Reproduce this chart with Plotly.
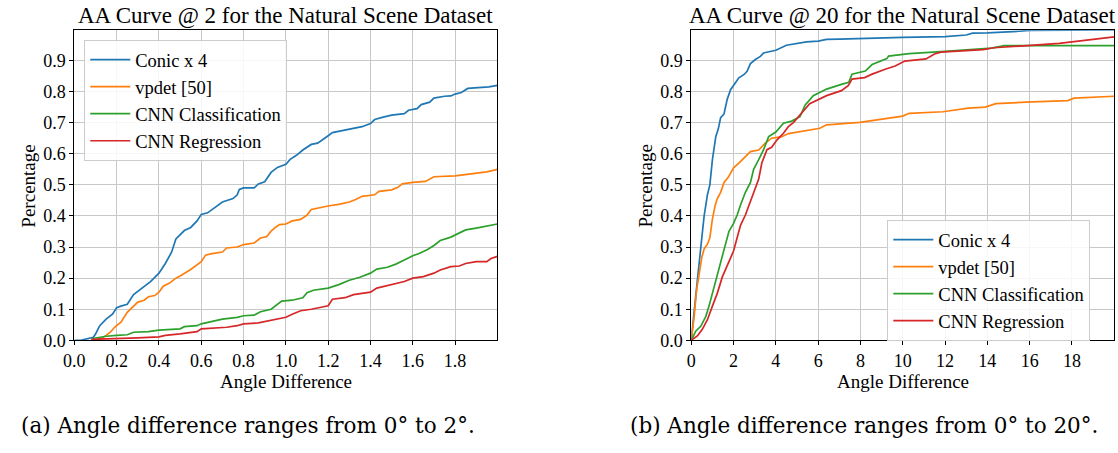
import plotly.graph_objects as go

W, H = 1118, 453

# ---------- data: left panel (0..2 deg) ----------
conic2_x = [0.0, 0.03, 0.09, 0.10, 0.12, 0.15, 0.18, 0.20, 0.22, 0.25, 0.28, 0.30, 0.33, 0.36, 0.40, 0.43, 0.46, 0.48,
            0.52, 0.55, 0.58, 0.60, 0.63, 0.66, 0.70, 0.75, 0.77, 0.78, 0.80, 0.85, 0.87, 0.90, 0.93, 0.96, 1.00,
            1.02, 1.05, 1.08, 1.12, 1.15, 1.18, 1.20, 1.22, 1.25, 1.30, 1.36, 1.40, 1.42, 1.46, 1.50, 1.56, 1.58,
            1.62, 1.64, 1.68, 1.70, 1.75, 1.78, 1.80, 1.83, 1.86, 1.90, 1.96, 2.00]
conic2_y = [0.0, 0.0, 0.01, 0.02, 0.047, 0.068, 0.084, 0.105, 0.11, 0.116, 0.147, 0.158, 0.174, 0.189, 0.216, 0.247,
            0.284, 0.326, 0.353, 0.363, 0.384, 0.405, 0.41, 0.426, 0.445, 0.456, 0.468, 0.485, 0.49, 0.49, 0.503,
            0.51, 0.54, 0.556, 0.566, 0.582, 0.595, 0.612, 0.63, 0.634, 0.65, 0.658, 0.668, 0.672, 0.679, 0.687,
            0.697, 0.71, 0.718, 0.724, 0.729, 0.74, 0.745, 0.758, 0.766, 0.779, 0.785, 0.786, 0.792, 0.797, 0.81,
            0.812, 0.815, 0.82]

vpdet2_x = [0.09, 0.13, 0.15, 0.17, 0.19, 0.22, 0.25, 0.28, 0.30, 0.33, 0.35, 0.38, 0.40, 0.42, 0.45, 0.48, 0.50,
            0.55, 0.58, 0.60, 0.62, 0.65, 0.70, 0.72, 0.77, 0.80, 0.85, 0.88, 0.91, 0.93, 0.95, 0.97, 1.00, 1.03,
            1.07, 1.10, 1.12, 1.15, 1.20, 1.25, 1.30, 1.33, 1.36, 1.42, 1.44, 1.50, 1.53, 1.55, 1.60, 1.66, 1.68,
            1.70, 1.80, 1.86, 1.90, 1.95, 2.00]
vpdet2_y = [0.0, 0.007, 0.016, 0.026, 0.042, 0.058, 0.09, 0.11, 0.123, 0.129, 0.14, 0.144, 0.155, 0.174, 0.184,
            0.2, 0.207, 0.228, 0.242, 0.253, 0.274, 0.279, 0.284, 0.297, 0.3, 0.308, 0.313, 0.329, 0.334, 0.351,
            0.363, 0.372, 0.374, 0.384, 0.389, 0.403, 0.421, 0.426, 0.432, 0.437, 0.445, 0.453, 0.463, 0.468,
            0.479, 0.484, 0.492, 0.503, 0.508, 0.511, 0.519, 0.526, 0.529, 0.534, 0.539, 0.542, 0.55]

cls2_x = [0.08, 0.15, 0.20, 0.25, 0.28, 0.35, 0.40, 0.50, 0.52, 0.58, 0.60, 0.65, 0.70, 0.77, 0.80, 0.85, 0.88,
          0.93, 0.95, 0.98, 1.03, 1.08, 1.10, 1.13, 1.20, 1.25, 1.30, 1.35, 1.40, 1.43, 1.48, 1.52, 1.56, 1.60,
          1.63, 1.67, 1.70, 1.73, 1.78, 1.82, 1.85, 1.90, 1.95, 2.00]
cls2_y = [0.005, 0.013, 0.016, 0.018, 0.026, 0.028, 0.033, 0.037, 0.044, 0.047, 0.053, 0.06, 0.068, 0.074, 0.079,
          0.081, 0.092, 0.1, 0.111, 0.126, 0.129, 0.137, 0.153, 0.161, 0.168, 0.179, 0.193, 0.203, 0.216, 0.229,
          0.235, 0.245, 0.258, 0.272, 0.279, 0.292, 0.305, 0.321, 0.332, 0.344, 0.355, 0.361, 0.368, 0.374]

reg2_x = [0.08, 0.20, 0.30, 0.40, 0.43, 0.50, 0.55, 0.58, 0.60, 0.65, 0.72, 0.77, 0.80, 0.87, 0.92, 0.95, 1.00,
          1.03, 1.07, 1.12, 1.20, 1.22, 1.28, 1.32, 1.40, 1.43, 1.47, 1.52, 1.56, 1.60, 1.65, 1.70, 1.73, 1.78,
          1.82, 1.85, 1.90, 1.95, 1.97, 2.00]
reg2_y = [0.003, 0.007, 0.008, 0.011, 0.016, 0.021, 0.024, 0.028, 0.037, 0.039, 0.042, 0.047, 0.053, 0.056, 0.063,
          0.068, 0.074, 0.084, 0.095, 0.1, 0.111, 0.132, 0.137, 0.147, 0.155, 0.168, 0.174, 0.182, 0.189, 0.2,
          0.205, 0.216, 0.226, 0.237, 0.239, 0.247, 0.253, 0.253, 0.263, 0.27]

# ---------- data: right panel (0..20 deg) ----------
conic20_x = [0.0, 0.15, 0.3, 0.5, 0.61, 0.77, 0.88, 1.0, 1.16, 1.28, 1.39, 1.55, 1.7, 1.86, 2.0, 2.25, 2.5, 2.64,
             2.8, 3.03, 3.27, 3.42, 3.73, 4.0, 4.5, 5.0, 5.45, 6.0, 6.4, 7.0, 8.0, 9.5, 10.0, 12.0, 13.0, 13.3,
             14.0, 15.5, 16.0, 20.0]
conic20_y = [0.0, 0.09, 0.2, 0.33, 0.40, 0.47, 0.5, 0.58, 0.655, 0.68, 0.716, 0.728, 0.775, 0.806, 0.82, 0.844,
             0.855, 0.865, 0.89, 0.903, 0.913, 0.924, 0.929, 0.933, 0.949, 0.955, 0.96, 0.962, 0.968, 0.969, 0.97,
             0.973, 0.974, 0.977, 0.982, 0.988, 0.989, 0.994, 0.997, 0.998]

vpdet20_x = [0.0, 0.14, 0.25, 0.375, 0.5, 0.61, 0.77, 0.88, 1.0, 1.13, 1.23, 1.39, 1.55, 1.75, 2.0, 2.25, 2.56,
             2.8, 3.19, 3.5, 3.8, 4.28, 4.6, 5.06, 5.9, 6.08, 6.4, 7.97, 10.0, 10.3, 11.9, 13.1, 13.9, 14.4, 15.8,
             17.8, 18.1, 20.0]
vpdet20_y = [0.0, 0.078, 0.16, 0.21, 0.267, 0.294, 0.31, 0.33, 0.39, 0.434, 0.455, 0.476, 0.508, 0.524, 0.555,
             0.57, 0.59, 0.607, 0.612, 0.634, 0.65, 0.655, 0.665, 0.67, 0.678, 0.682, 0.693, 0.701, 0.721, 0.73,
             0.735, 0.747, 0.75, 0.761, 0.766, 0.771, 0.779, 0.785]

cls20_x = [0.0, 0.22, 0.45, 0.69, 0.84, 1.08, 1.31, 1.55, 1.78, 2.0, 2.17, 2.33, 2.56, 2.8, 2.95, 3.19, 3.42, 3.66,
           4.0, 4.36, 4.75, 5.14, 5.38, 5.77, 6.4, 7.14, 7.45, 7.6, 8.23, 8.55, 9.25, 9.33, 10.3, 12.0, 14.2, 14.8,
           20.0]
cls20_y = [0.0, 0.03, 0.045, 0.077, 0.11, 0.172, 0.235, 0.288, 0.35, 0.376, 0.403, 0.435, 0.476, 0.508, 0.55,
           0.581, 0.613, 0.655, 0.67, 0.698, 0.705, 0.719, 0.756, 0.787, 0.808, 0.824, 0.83, 0.856, 0.866, 0.887,
           0.906, 0.914, 0.922, 0.929, 0.94, 0.948, 0.948]

reg20_x = [0.0, 0.3, 0.53, 0.77, 1.0, 1.23, 1.47, 1.78, 2.0, 2.17, 2.33, 2.56, 2.72, 2.95, 3.19, 3.34, 3.58, 3.8,
           4.05, 4.36, 4.59, 4.83, 5.14, 5.6, 6.4, 7.1, 7.42, 7.6, 8.2, 8.55, 9.17, 9.64, 10.1, 11.1, 11.5, 11.8,
           13.8, 14.3, 15.7, 17.4, 18.8, 20.0]
reg20_y = [0.0, 0.015, 0.036, 0.067, 0.11, 0.151, 0.204, 0.25, 0.287, 0.33, 0.37, 0.403, 0.434, 0.476, 0.519,
           0.571, 0.613, 0.621, 0.644, 0.666, 0.687, 0.7, 0.724, 0.761, 0.787, 0.803, 0.819, 0.84, 0.845, 0.856,
           0.872, 0.882, 0.898, 0.905, 0.921, 0.927, 0.935, 0.941, 0.947, 0.955, 0.966, 0.976]

names = ["Conic x 4", "vpdet [50]", "CNN Classification", "CNN Regression"]
colors = ["#1f77b4", "#ff7f0e", "#2ca02c", "#d62728"]
left_series = [(conic2_x, conic2_y), (vpdet2_x, vpdet2_y), (cls2_x, cls2_y), (reg2_x, reg2_y)]
right_series = [(conic20_x, conic20_y), (vpdet20_x, vpdet20_y), (cls20_x, cls20_y), (reg20_x, reg20_y)]

left_ticks = [0.0, 0.2, 0.4, 0.6, 0.8, 1.0, 1.2, 1.4, 1.6, 1.8]
right_ticks = [0, 2, 4, 6, 8, 10, 12, 14, 16, 18]
y_ticks = [0.0, 0.1, 0.2, 0.3, 0.4, 0.5, 0.6, 0.7, 0.8, 0.9]

titles = ["AA Curve @ 2 for the Natural Scene Dataset", "AA Curve @ 20 for the Natural Scene Dataset"]
captions = ["(a) Angle difference ranges from 0° to 2°.", "(b) Angle difference ranges from 0° to 20°."]

FONT = "Liberation Serif"
CAP_FONT = "DejaVu Serif"

fig = go.Figure()
for i, (x, y) in enumerate(left_series):
    fig.add_trace(go.Scatter(x=x, y=y, mode="lines", name=names[i], line=dict(color=colors[i], width=1.7),
                             xaxis="x", yaxis="y", legend="legend"))
for i, (x, y) in enumerate(right_series):
    fig.add_trace(go.Scatter(x=x, y=y, mode="lines", name=names[i], line=dict(color=colors[i], width=1.7),
                             xaxis="x2", yaxis="y2", legend="legend2"))

# plot-area pixel boxes
L1, R1 = 64, 491
L2, R2 = 687, 1114
T, B = 31, 348
ydom = [(H - B) / H, (H - T) / H]

axis_common = dict(showline=True, linecolor="black", linewidth=1, mirror=True,
                   ticks="outside", ticklen=4, tickcolor="black", tickwidth=1,
                   showgrid=True, gridcolor="#c8c8c8", gridwidth=1, zeroline=False,
                   tickfont=dict(family=FONT, size=18, color="black"))

legend_common = dict(xanchor="left", yanchor="top", itemwidth=40,
                     bgcolor="rgba(255,255,255,0.85)", bordercolor="#cccccc", borderwidth=1,
                     font=dict(family=FONT, size=18.5, color="black"))

fig.update_layout(
    width=W, height=H, margin=dict(l=0, r=0, t=0, b=0),
    paper_bgcolor="white", plot_bgcolor="white",
    font=dict(family=FONT, color="black"),
    xaxis=dict(domain=[L1 / W, R1 / W], range=[0, 1.999], tickvals=left_ticks,
               ticktext=[f"{v:.1f}" for v in left_ticks], anchor="y", **axis_common),
    yaxis=dict(domain=ydom, range=[0, 0.997], tickvals=y_ticks,
               ticktext=[f"{v:.1f}" for v in y_ticks], anchor="x", **axis_common),
    xaxis2=dict(domain=[L2 / W, R2 / W], range=[0, 19.99], tickvals=right_ticks,
                ticktext=[str(v) for v in right_ticks], anchor="y2", **axis_common),
    yaxis2=dict(domain=ydom, range=[0, 0.997], tickvals=y_ticks,
                ticktext=[f"{v:.1f}" for v in y_ticks], anchor="x2", **axis_common),
    legend=dict(x=74 / W, y=1 - 41 / H, **legend_common),
    legend2=dict(x=885 / W, y=1 - 225 / H, **legend_common),
)

annos = []
for (l, r), t in zip([(L1, R1), (L2, R2)], titles):
    cx = (l + r) / 2 / W
    annos.append(dict(text=t, x=cx, y=1 - 16 / H, xref="paper", yref="paper", xanchor="center", yanchor="middle",
                      showarrow=False, font=dict(family=FONT, size=23, color="black")))
    annos.append(dict(text="Angle Difference", x=cx, y=1 - 390 / H, xref="paper", yref="paper",
                      xanchor="center", yanchor="middle", showarrow=False,
                      font=dict(family=FONT, size=19, color="black")))
for xl, c in zip([8, 623], captions):
    annos.append(dict(text=c, x=xl / W, y=1 - 435 / H, xref="paper", yref="paper",
                      xanchor="left", yanchor="middle", showarrow=False,
                      font=dict(family=CAP_FONT, size=21.5, color="black")))
for xp in [18, 641]:
    annos.append(dict(text="Percentage", x=xp / W, y=1 - 190 / H, xref="paper", yref="paper",
                      xanchor="center", yanchor="middle", textangle=-90, showarrow=False,
                      font=dict(family=FONT, size=19, color="black")))
fig.update_layout(annotations=annos)

fig.write_html("out.html")
